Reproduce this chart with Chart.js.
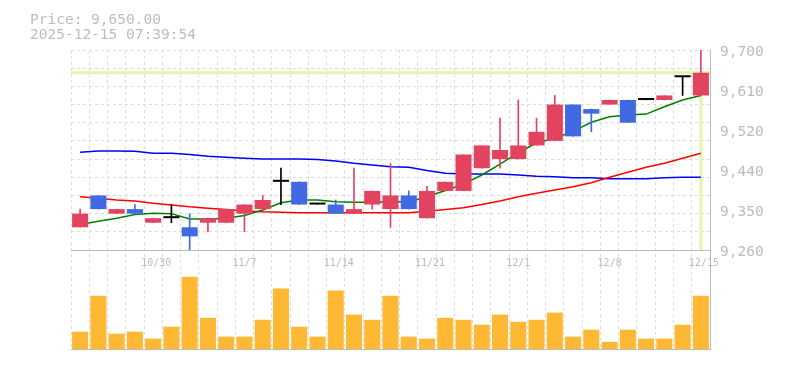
<!DOCTYPE html>
<html lang="ja">
<head>
<meta charset="UTF-8">
<title>Price chart</title>
<style>
  body { margin: 0; background: #fff; }
  .wrap { position: relative; width: 785px; height: 370px; }
  .info {
    position: absolute; left: 30px; top: 11.5px;
    font-family: "DejaVu Sans Mono", monospace; font-size: 14.5px; line-height: 15px;
    color: #bdbdbd; white-space: pre;
  }
  canvas { position: absolute; left: 0; top: 0; }
</style>
</head>
<body>
<div class="wrap">
  <canvas id="chart" width="785" height="370"></canvas>
  <div class="info">Price: 9,650.00
2025-12-15 07:39:54</div>
</div>
<script src="https://cdn.jsdelivr.net/npm/chart.js"></script>
<script>
// trading days
const dates = ['10/24','10/27','10/28','10/29','10/30','10/31','11/4','11/5','11/6','11/7',
  '11/10','11/11','11/12','11/13','11/14','11/17','11/18','11/19','11/20','11/21',
  '11/25','11/26','11/27','11/28','12/1','12/2','12/3','12/4','12/5','12/8',
  '12/9','12/10','12/11','12/12','12/15'];
const tickDates = ['10/30','11/7','11/14','11/21','12/1','12/8','12/15'];

// daily prices
const openP  = [9310,9380,9340,9350,9320,9330,9310,9320,9320,9340,9350,9410,9410,9360,9360,9340,9360,9350,9380,9330,
                9390,9390,9440,9460,9460,9490,9500,9580,9570,9580,9590,9590,9590,9640,9600];
const highP  = [9350,9380,9350,9360,9330,9360,9340,9330,9350,9360,9380,9440,9410,9360,9370,9440,9390,9450,9390,9400,
                9410,9470,9490,9550,9590,9550,9600,9580,9570,9590,9590,9590,9600,9640,9700];
const lowP   = [9310,9350,9340,9340,9320,9320,9260,9300,9320,9300,9350,9360,9360,9360,9340,9340,9350,9310,9350,9330,
                9390,9390,9440,9440,9460,9490,9500,9510,9520,9580,9540,9590,9590,9600,9600];
const closeP = [9340,9350,9350,9340,9330,9330,9290,9330,9350,9360,9370,9410,9360,9360,9340,9350,9390,9380,9350,9390,
                9410,9470,9490,9480,9490,9520,9580,9510,9560,9590,9540,9590,9600,9640,9650];

// moving averages
const ma5  = [9316,9323,9330,9338,9341,9340,9328,9328,9330,9336,9348,9364,9370,9370,9366,9365,9365,9366,9366,9377,
              9391,9405,9425,9449,9474,9496,9506,9521,9541,9553,9557,9559,9575,9590,9600];
const ma25 = [9377,9374,9370,9368,9363,9359,9355,9352,9349,9346,9344,9343,9342,9342,9342,9342,9342,9342,9342,9345,
              9349,9353,9360,9368,9377,9385,9392,9399,9408,9420,9431,9442,9451,9462,9473];
const ma75 = [9475,9478,9478,9477,9473,9473,9470,9466,9464,9462,9460,9460,9460,9459,9456,9451,9447,9443,9442,9435,
              9429,9427,9427,9427,9425,9422,9421,9419,9419,9417,9417,9417,9419,9420,9420];

// volume (thousand shares)
const volume = [7.0,21.5,6.2,7.0,4.2,9.0,29.2,12.6,5.0,5.0,11.8,24.4,9.0,5.0,23.6,13.9,11.8,21.5,5.0,4.2,
                12.6,11.8,9.8,13.9,11.0,11.8,14.7,5.0,7.8,2.9,7.8,4.2,4.2,9.8,21.5];

const currentPrice = 9650;
const priceMin = 9260, priceMax = 9700, volumeMax = 40;
const priceTicks = [9260, 9348, 9436, 9524, 9612, 9700];
const priceTickLabels = ['9,260', '9,350', '9,440', '9,520', '9,610', '9,700'];
const priceGrid = [9260,9300,9340,9380,9420,9460,9500,9540,9580,9620,9660,9700];

const UP = '#e2445f', DOWN = '#4169e1', FLAT = '#000000';
const candleColor = closeP.map((c, i) => c > openP[i] ? UP : (c < openP[i] ? DOWN : FLAT));
const bodies = dates.map((d, i) => [openP[i], closeP[i]]);
const wicks = dates.map((d, i) => [lowP[i], highP[i]]);
const lastDate = dates[dates.length - 1];

Chart.defaults.font.family = "'DejaVu Sans Mono', monospace";
const gridColor = '#dcdcdc';
const frameColor = '#bbbbbb';

new Chart(document.getElementById('chart'), {
  type: 'bar',
  data: {
    labels: dates,
    datasets: [
      { type: 'bar', data: bodies, backgroundColor: candleColor, xAxisID: 'x', yAxisID: 'y',
        grouped: false, barPercentage: 0.88, categoryPercentage: 1, minBarLength: 2, order: 1 },
      { type: 'bar', data: wicks, backgroundColor: candleColor, xAxisID: 'x', yAxisID: 'y',
        grouped: false, barThickness: 1, order: 2 },
      { type: 'line', data: ma5, borderColor: '#008000', borderWidth: 1.5, pointRadius: 0,
        xAxisID: 'x', yAxisID: 'y', order: 3 },
      { type: 'line', data: ma25, borderColor: '#ff0000', borderWidth: 1.5, pointRadius: 0,
        xAxisID: 'x', yAxisID: 'y', order: 3 },
      { type: 'line', data: ma75, borderColor: '#0000ff', borderWidth: 1.5, pointRadius: 0,
        xAxisID: 'x', yAxisID: 'y', order: 3 },
      // current price marker
      { type: 'line', data: [{x: 0, y: currentPrice}, {x: 1, y: currentPrice}], borderColor: '#e6f3a8',
        borderWidth: 3, pointRadius: 0, xAxisID: 'xl', yAxisID: 'y', order: 5 },
      { type: 'line', data: [{x: lastDate, y: currentPrice}, {x: lastDate, y: priceMin}], borderColor: '#e6f3a8',
        borderWidth: 3, pointRadius: 0, xAxisID: 'x', yAxisID: 'y', order: 5 },
      { type: 'bar', data: volume, backgroundColor: '#ffb834', xAxisID: 'x', yAxisID: 'yv',
        grouped: false, barPercentage: 0.88, categoryPercentage: 1, order: 1 }
    ]
  },
  options: {
    responsive: false,
    animation: false,
    layout: { padding: { left: 71, top: 50, right: 0, bottom: 21 } },
    plugins: { legend: { display: false }, tooltip: { enabled: false } },
    scales: {
      x: {
        type: 'category', position: 'bottom', offset: true,
        grid: { offset: true, color: gridColor, drawTicks: false },
        border: { display: true, color: frameColor, dash: [3, 3] },
        ticks: { display: false }
      },
      xd: {
        type: 'category', position: { y: priceMin }, offset: true,
        grid: { display: false, drawTicks: false },
        border: { display: true, color: frameColor },
        ticks: {
          autoSkip: false, maxRotation: 0, align: 'start', labelOffset: -12, padding: 7,
          color: frameColor, font: { size: 10 },
          callback: (v, i) => tickDates.includes(dates[i]) ? dates[i] : ''
        }
      },
      xl: { type: 'linear', display: false, offset: false, grid: { offset: false }, min: 0, max: 1 },
      y: {
        type: 'linear', position: 'right', stack: 'panels', stackWeight: 200,
        min: priceMin, max: priceMax,
        afterBuildTicks: (s) => {
          const vals = [...new Set(priceGrid.concat(priceTicks))].sort((a, b) => a - b);
          s.ticks = vals.map(v => ({ value: v }));
        },
        afterFit: (s) => { s.width = 75; },
        grid: {
          drawTicks: false,
          color: (c) => (c.tick && priceGrid.includes(c.tick.value)) ? gridColor : 'rgba(0,0,0,0)'
        },
        border: { display: true, color: frameColor, dash: [3, 3] },
        ticks: {
          autoSkip: false, padding: 10, labelOffset: 2.5, color: frameColor, font: { size: 14.5 },
          callback: (v) => {
            const k = priceTicks.indexOf(v);
            return k >= 0 ? priceTickLabels[k] : '';
          }
        }
      },
      yv: {
        type: 'linear', position: 'right', stack: 'panels', stackWeight: 99,
        min: 0, max: volumeMax,
        afterFit: (s) => { s.width = 75; },
        grid: { display: false, drawTicks: false },
        border: { display: true, color: frameColor },
        ticks: { display: false }
      }
    }
  }
});
</script>
</body>
</html>
